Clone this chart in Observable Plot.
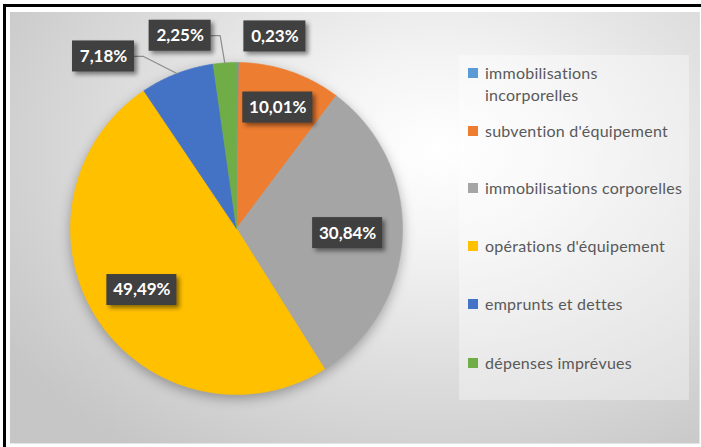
<!DOCTYPE html>
<html>
<head>
<meta charset="utf-8">
<script src="https://cdn.jsdelivr.net/npm/d3@7"></script>
<script src="https://cdn.jsdelivr.net/npm/@observablehq/plot@0.6"></script>
<style>
  html, body { margin: 0; padding: 0; background: #fff; }
  #frame { position: absolute; left: 0; top: 0; width: 701px; height: 447px; overflow: hidden; background: #fff; }
  #btop { position: absolute; left: 3px; top: 4px; width: 698px; height: 3px; background: #000; }
  #bleft { position: absolute; left: 3px; top: 4px; width: 3px; height: 443px; background: #000; }
  #inner { position: absolute; left: 10px; top: 12px; width: 689px; height: 431px;
    background: radial-gradient(ellipse 75% 85% at 62% 32%, #ffffff 0%, #f4f4f4 25%, #dedede 60%, #c6c6c6 100%);
    border-right: 1px solid #e4e4e4; border-bottom: 1px solid #e4e4e4; }
  #legendbox { position: absolute; left: 459px; top: 55px; width: 230px; height: 345px; background: rgba(255,255,255,0.35); }
  .li { position: absolute; left: 468px; font-family: Lato, "Liberation Sans", sans-serif; font-size: 16px; letter-spacing: 0.25px; color: #595959; line-height: 22px; }
  .li .sw { position: absolute; left: 0; top: 6px; width: 10px; height: 10px; }
  .li .tx { position: absolute; left: 17px; top: 0; white-space: nowrap; }
  #chart { position: absolute; left: 0; top: 0; }
  #chart g[aria-description="pie"] { filter: drop-shadow(0px 4px 6px rgba(0,0,0,0.3)); }
  #chart g[aria-label="rect"] rect { filter: drop-shadow(3px 3px 2px rgba(0,0,0,0.45)); }
</style>
</head>
<body>
<div id="frame">
  <div id="inner"></div>
  <div id="btop"></div>
  <div id="bleft"></div>
  <div id="legendbox"></div>
  <div id="legend"></div>
  <div id="chart"></div>
</div>
<script>
// ---- data ----
const categories = ["immobilisations incorporelles", "subvention d'équipement", "immobilisations corporelles", "opérations d'équipement", "emprunts et dettes", "dépenses imprévues"];
const legendLines = [["immobilisations", "incorporelles"], ["subvention d'équipement"], ["immobilisations corporelles"], ["opérations d'équipement"], ["emprunts et dettes"], ["dépenses imprévues"]];
const values = [0.23, 10.01, 30.84, 49.49, 7.18, 2.25];
const valueLabels = ["0,23%", "10,01%", "30,84%", "49,49%", "7,18%", "2,25%"];
const colors = ["#5B9BD5", "#ED7D31", "#A5A5A5", "#FFC000", "#4472C4", "#70AD47"];

// ---- layout (label placement, not data) ----
const labelRadius = [1.18, 0.77, 0.67, 0.68, 1.31, 1.21];
const labelAngleDeg = [11.3, null, null, null, -37.7, -16.3];
const hasLeader = [false, false, false, false, true, true];
const legendTops = [62, 120, 177, 235, 293, 352];

const R = 166, cx = 236, cy = 228;
const px = 1 / R; // one pixel in data units

// ---- geometry ----
const total = d3.sum(values);
let cum = 0;
const slices = values.map((v, i) => {
  const a0 = cum / total * 2 * Math.PI;
  cum += v;
  const a1 = cum / total * 2 * Math.PI;
  return {i, a0, a1, mid: (a0 + a1) / 2};
});
const piePts = [];
for (const s of slices) {
  const n = Math.max(2, Math.ceil((s.a1 - s.a0) / (Math.PI / 360)));
  piePts.push({k: s.i, x: 0, y: 0});
  for (let j = 0; j <= n; j++) {
    const a = s.a0 + (s.a1 - s.a0) * j / n;
    piePts.push({k: s.i, x: Math.sin(a), y: Math.cos(a)});
  }
  piePts.push({k: s.i, x: 0, y: 0});
}
const labs = slices.map(s => {
  const ang = labelAngleDeg[s.i] == null ? s.mid : labelAngleDeg[s.i] * Math.PI / 180;
  const r = labelRadius[s.i];
  const txt = valueLabels[s.i];
  const hw = (8 * txt.length + 22) / 2 * px;
  const hh = 15.5 * px;
  const x = r * Math.sin(ang), y = r * Math.cos(ang);
  return {i: s.i, txt, x, y, x1: x - hw, x2: x + hw, y1: y - hh, y2: y + hh, mid: s.mid, hw};
});
const leaderPts = [];
for (const l of labs) {
  if (!hasLeader[l.i]) continue;
  leaderPts.push({k: l.i, x: l.x2, y: l.y});
  leaderPts.push({k: l.i, x: l.x2 + 9 * px, y: l.y});
  leaderPts.push({k: l.i, x: Math.sin(l.mid), y: Math.cos(l.mid)});
}

const plot = Plot.plot({
  width: 701, height: 447,
  margin: 0,
  style: {background: "transparent"},
  x: {domain: [-1, 1], range: [cx - R, cx + R], axis: null},
  y: {domain: [-1, 1], range: [cy + R, cy - R], axis: null},
  marks: [
    Plot.line(piePts, {x: "x", y: "y", z: "k", fill: d => colors[d.k], stroke: d => colors[d.k], strokeWidth: 0.6, curve: "linear", ariaDescription: "pie"}),
    Plot.line(leaderPts, {x: "x", y: "y", z: "k", stroke: "#8c8c8c", strokeWidth: 1.2}),
    Plot.rect(labs, {x1: "x1", x2: "x2", y1: "y1", y2: "y2", fill: "#404040"}),
    Plot.text(labs, {x: "x", y: "y", text: "txt", fill: "#ffffff", fontSize: 17, fontWeight: "bold", fontFamily: "Lato, 'Liberation Sans', sans-serif"})
  ]
});
document.getElementById("chart").appendChild(plot);

// legend
const leg = document.getElementById("legend");
categories.forEach((c, i) => {
  const d = document.createElement("div");
  d.className = "li";
  d.style.top = legendTops[i] + "px";
  d.innerHTML = `<div class="sw" style="background:${colors[i]}"></div><div class="tx">${legendLines[i].join("<br>")}</div>`;
  leg.appendChild(d);
});
</script>
</body>
</html>
